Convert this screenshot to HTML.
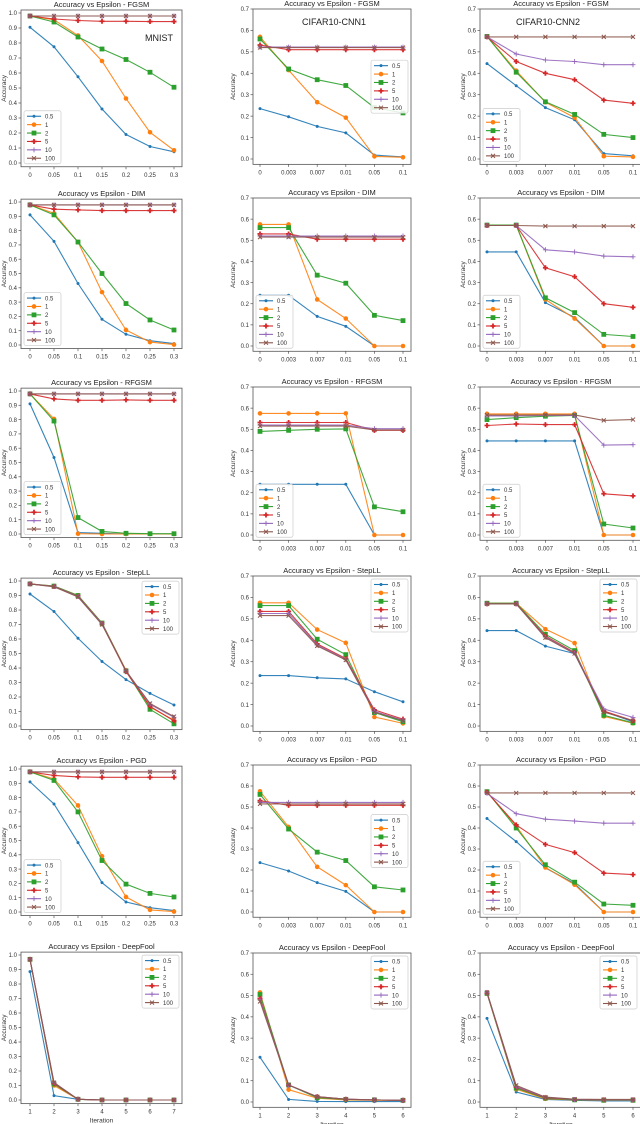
<!DOCTYPE html>
<html><head><meta charset="utf-8"><style>
html,body{margin:0;padding:0;background:#fff;}
svg{display:block;font-family:"Liberation Sans","DejaVu Sans",sans-serif;}
</style></head><body>
<svg id="fig" width="640" height="1124" viewBox="0 0 640 1124" xmlns="http://www.w3.org/2000/svg"></svg>
<script>
const seriesNames = ["0.5","1","2","5","10","100"];
const epsMnist = ["0","0.05","0.1","0.15","0.2","0.25","0.3"];
const epsCifar = ["0","0.003","0.007","0.01","0.05","0.1"];
const iterMnist = ["1","2","3","4","5","6","7"];
const iterCifar = ["1","2","3","4","5","6"];
const yTicksMnist = ["0.0","0.1","0.2","0.3","0.4","0.5","0.6","0.7","0.8","0.9","1.0"];
const yTicksCifar = ["0.0","0.1","0.2","0.3","0.4","0.5","0.6","0.7"];
const attackNames = ["FGSM","DIM","RFGSM","StepLL","PGD","DeepFool"];

const fgsmMnist = [[.905,.775,.575,.36,.19,.11,.075],[.98,.955,.85,.68,.43,.205,.085],[.98,.94,.84,.76,.69,.605,.505],[.98,.96,.95,.945,.945,.943,.943],[.98,.98,.98,.98,.98,.98,.98],[.98,.98,.98,.98,.98,.98,.98]];
const fgsmCnn1 = [[.235,.197,.152,.122,.018,.01],[.57,.415,.265,.193,.012,.008],[.56,.42,.37,.343,.24,.215],[.532,.51,.51,.51,.51,.51],[.522,.522,.522,.522,.522,.522],[.52,.52,.52,.52,.52,.52]];
const fgsmCnn2 = [[.445,.342,.24,.183,.025,.015],[.572,.412,.265,.193,.013,.01],[.572,.405,.267,.208,.115,.1],[.57,.455,.40,.37,.275,.26],[.57,.49,.462,.455,.44,.44],[.57,.57,.57,.57,.57,.57]];
const dimMnist = [[.91,.725,.43,.18,.075,.03,.01],[.98,.92,.72,.37,.105,.02,.003],[.98,.91,.72,.50,.29,.175,.105],[.98,.95,.945,.94,.94,.94,.94],[.98,.98,.98,.98,.98,.98,.98],[.98,.98,.98,.98,.98,.98,.98]];
const dimCnn1 = [[.24,.24,.14,.093,0,0],[.575,.575,.22,.13,0,0],[.56,.56,.335,.297,.145,.12],[.53,.53,.505,.505,.505,.505],[.52,.52,.52,.52,.52,.52],[.515,.515,.515,.515,.515,.515]];
const dimCnn2 = [[.445,.445,.205,.135,0,0],[.572,.572,.22,.13,0,0],[.572,.572,.228,.158,.055,.045],[.57,.57,.37,.328,.2,.183],[.57,.57,.455,.445,.425,.422],[.57,.57,.567,.567,.567,.567]];
const rfgsmMnist = [[.91,.535,.01,.005,0,0,0],[.98,.805,.002,0,0,0,0],[.98,.79,.115,.018,.005,.002,.002],[.98,.945,.935,.935,.938,.935,.935],[.98,.98,.98,.98,.98,.98,.98],[.98,.98,.98,.98,.98,.98,.98]];
const rfgsmCnn1 = [[.24,.24,.24,.24,0,0],[.575,.575,.575,.575,0,0],[.49,.495,.5,.502,.133,.11],[.532,.532,.532,.532,.495,.495],[.52,.52,.52,.52,.503,.503],[.515,.515,.515,.515,.497,.497]];
const rfgsmCnn2 = [[.445,.445,.445,.445,0,0],[.573,.573,.573,.573,0,0],[.546,.555,.562,.565,.052,.033],[.518,.525,.522,.522,.195,.185],[.563,.563,.565,.565,.425,.427],[.567,.567,.568,.568,.542,.546]];
const stepllMnist = [[.91,.79,.605,.445,.32,.225,.145],[.98,.965,.9,.71,.385,.13,.04],[.98,.965,.9,.71,.38,.115,.015],[.98,.962,.895,.705,.375,.135,.035],[.98,.962,.893,.705,.38,.15,.06],[.98,.96,.89,.7,.38,.155,.065]];
const stepllCnn1 = [[.235,.235,.225,.22,.16,.113],[.575,.575,.45,.388,.042,.012],[.562,.562,.405,.333,.063,.02],[.535,.535,.383,.315,.075,.032],[.525,.525,.378,.31,.068,.027],[.515,.515,.374,.308,.065,.025]];
const stepllCnn2 = [[.445,.445,.373,.338,.068,.02],[.573,.573,.452,.387,.045,.013],[.573,.573,.428,.352,.05,.015],[.57,.57,.42,.343,.07,.025],[.57,.57,.415,.34,.08,.04],[.57,.57,.412,.338,.065,.025]];
const pgdMnist = [[.91,.755,.485,.205,.07,.03,.01],[.98,.93,.745,.39,.105,.015,.003],[.98,.92,.70,.36,.195,.13,.105],[.98,.955,.945,.942,.942,.942,.942],[.98,.98,.98,.98,.98,.98,.98],[.98,.98,.98,.98,.98,.98,.98]];
const pgdCnn1 = [[.235,.195,.14,.098,0,0],[.575,.405,.215,.128,0,0],[.56,.395,.285,.245,.12,.105],[.53,.508,.508,.508,.508,.508],[.522,.522,.522,.522,.522,.522],[.515,.515,.515,.515,.515,.515]];
const pgdCnn2 = [[.445,.335,.21,.135,0,0],[.573,.41,.212,.13,0,0],[.573,.4,.225,.142,.038,.032],[.57,.415,.322,.283,.185,.178],[.565,.468,.442,.433,.423,.423],[.567,.567,.567,.567,.567,.567]];
const dfMnist = [[.885,.03,.005,0,0,0,0],[.97,.10,.005,0,0,0,0],[.97,.11,.005,0,0,0,0],[.97,.115,.005,0,0,0,0],[.97,.12,.005,0,0,0,0],[.97,.12,.005,0,0,0,0]];
const dfCnn1 = [[.21,.012,.003,.002,.002,.002],[.515,.058,.018,.01,.008,.007],[.505,.08,.02,.012,.01,.008],[.487,.08,.025,.013,.01,.008],[.48,.08,.025,.013,.01,.008],[.472,.08,.025,.013,.01,.008]];
const dfCnn2 = [[.393,.047,.012,.008,.005,.005],[.512,.06,.015,.01,.008,.008],[.51,.065,.018,.01,.008,.008],[.513,.07,.02,.012,.01,.01],[.515,.073,.022,.012,.01,.01],[.515,.078,.023,.013,.012,.012]];

const panelData = [[fgsmMnist,fgsmCnn1,fgsmCnn2],[dimMnist,dimCnn1,dimCnn2],[rfgsmMnist,rfgsmCnn1,rfgsmCnn2],[stepllMnist,stepllCnn1,stepllCnn2],[pgdMnist,pgdCnn1,pgdCnn2],[dfMnist,dfCnn1,dfCnn2]];

// layout (pixels)
const rowTopPx = [[13,9],[202,198],[391,387],[581,576],[769,765],[955,953]];
const rowZeroPx = [[163,159],[345,346],[534,535],[726,726],[912,912],[1100,1102]];
const colFrame = [[21,182],[253,411],[480,642]];
const colXRange = [[30,174],[260,403],[487,633]];
const colYLabelX = [6,235,465];
const legendPos = [["ll","cr","ll"],["ll","ll","ll"],["ll","ll","ll"],["ur","ur","ur"],["ll","cr","ll"],["ur","ur","ur"]];
const colors = ["#1f77b4","#ff7f0e","#2ca02c","#d62728","#9467bd","#8c564b"];
const markers = ["star","circle","square","plus","cross","x"];

const NS = "http://www.w3.org/2000/svg";
const svg = document.getElementById("fig");
function mk(tag, attrs, parent){const e=document.createElementNS(NS,tag);for(const k in attrs)e.setAttribute(k,attrs[k]);(parent||svg).appendChild(e);return e;}

function drawMarker(g, type, x, y, c){
  let m;
  if(type==="circle"){m=mk("circle",{cx:x,cy:y,r:2.3,fill:c},g);}
  else if(type==="square"){m=mk("rect",{x:x-2.4,y:y-2.4,width:4.8,height:4.8,fill:c},g);}
  else if(type==="star"){m=mk("circle",{cx:x,cy:y,r:1.5,fill:c},g);}
  else if(type==="plus"){m=mk("path",{d:`M${x-2.5},${y}H${x+2.5}M${x},${y-2.5}V${y+2.5}`,stroke:c,"stroke-width":1.8},g);}
  else if(type==="cross"){m=mk("path",{d:`M${x-2.5},${y}H${x+2.5}M${x},${y-2.5}V${y+2.5}`,stroke:c,"stroke-width":0.9},g);}
  else {m=mk("path",{d:`M${x-2},${y-2}L${x+2},${y+2}M${x-2},${y+2}L${x+2},${y-2}`,stroke:c,"stroke-width":1},g);}
  
  
}

for(let r=0;r<6;r++){
  for(let c=0;c<3;c++){
    const isM = c===0;
    const data = panelData[r][c];
    const xlabels = r===5 ? (isM?iterMnist:iterCifar) : (isM?epsMnist:epsCifar);
    const ylabels = isM?yTicksMnist:yTicksCifar;
    const ymax = isM?1.0:0.7;
    const yt = rowTopPx[r][isM?0:1], y0 = rowZeroPx[r][isM?0:1];
    const yScale = v => y0 - (v/ymax)*(y0-yt);
    const [xa,xb] = colXRange[c];
    const xScale = i => xa + i*(xb-xa)/(xlabels.length-1);
    const [fl,fr] = colFrame[c];
    const ft = isM ? yScale(1.02) : yScale(0.7);
    const fb = yScale(-0.025);
    const g = mk("g",{});
    
    
    const title = mk("text",{x:(fl+fr)/2,y:ft-3,"text-anchor":"middle","font-size":7.5,fill:"#222"},g);
    title.textContent = "Accuracy vs Epsilon - "+attackNames[r];
    
    
    const frame = mk("rect",{x:fl,y:ft,width:fr-fl,height:fb-ft,fill:"none",stroke:"#555","stroke-width":0.8},g);
    
    
    ylabels.forEach((lab,i)=>{
      const v=parseFloat(lab), y=yScale(v);
      mk("line",{x1:fl-2.5,x2:fl,y1:y,y2:y,stroke:"#555","stroke-width":0.7},g);
      const t=mk("text",{x:fl-4,y:y+2.2,"text-anchor":"end","font-size":6,fill:"#333"},g);
      t.textContent=lab;
      
      
    });
    xlabels.forEach((lab,i)=>{
      const x=xScale(i);
      mk("line",{x1:x,x2:x,y1:fb,y2:fb+2.5,stroke:"#555","stroke-width":0.7},g);
      const t=mk("text",{x:x,y:fb+10,"text-anchor":"middle","font-size":6,fill:"#333"},g);
      t.textContent=lab;
      
      
    });
    const yl=mk("text",{x:colYLabelX[c],y:(ft+fb)/2,"text-anchor":"middle","font-size":6.5,fill:"#333",transform:`rotate(-90 ${colYLabelX[c]} ${(ft+fb)/2})`},g);
    yl.textContent="Accuracy";
    
    
    if(r===5){
      const xl=mk("text",{x:(fl+fr)/2,y:fb+19,"text-anchor":"middle","font-size":6.5,fill:"#333"},g);
      xl.textContent="Iteration";
      
      
    }
    data.forEach((ser,s)=>{
      const pts = ser.map((v,i)=>xScale(i).toFixed(1)+","+yScale(v).toFixed(1)).join(" ");
      const pl=mk("polyline",{points:pts,fill:"none",stroke:colors[s],"stroke-width":1.1,"stroke-opacity":0.9},g);
      
      
      ser.forEach((v,i)=>drawMarker(g,markers[s],xScale(i),yScale(v),colors[s]));
    });
    // legend
    const lw = 37, lh = 53;
    let lx, ly;
    const pos = legendPos[r][c];
    if(pos==="ll"){lx=fl+3; ly=fb-3-lh;}
    else if(pos==="ur"){lx=Math.min(fr,640)-3-lw; ly=ft+3;}
    else {lx=fr-3-lw; ly=(ft+fb)/2-lh/2;}
    const lg=mk("g",{},g);
    
    
    mk("rect",{x:lx,y:ly,width:lw,height:lh,rx:2,fill:"#fff","fill-opacity":0.85,stroke:"#ccc","stroke-width":0.7},lg);
    seriesNames.forEach((nm,s)=>{
      const yy = ly+5.5+s*8.4;
      const e=mk("g",{},lg);
      
      
      mk("line",{x1:lx+3,x2:lx+17,y1:yy,y2:yy,stroke:colors[s],"stroke-width":1.1},e);
      drawMarker(e,markers[s],lx+10,yy,colors[s]);
      const t=mk("text",{x:lx+21,y:yy+2.2,"font-size":6,fill:"#333"},e);
      t.textContent=nm;
    });
  }
}
const ann = [["MNIST",159,41],["CIFAR10-CNN1",334,25],["CIFAR10-CNN2",548,25]];
ann.forEach(a=>{
  const t=mk("text",{x:a[1],y:a[2],"text-anchor":"middle","font-size":9,fill:"#222"});
  t.textContent=a[0];
  
  
});
</script>
</body></html>
